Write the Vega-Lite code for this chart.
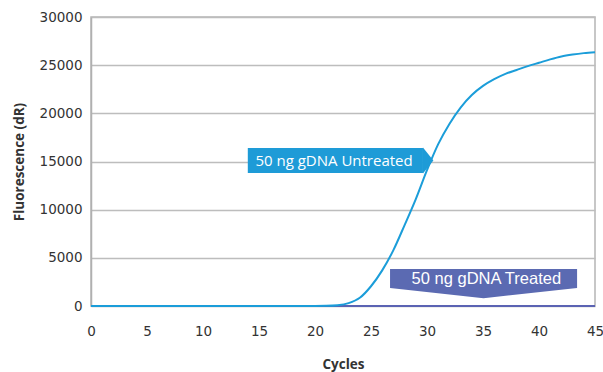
{
  "$schema": "https://vega.github.io/schema/vega-lite/v6.json",
  "autosize": {"type": "none"},
  "width": 504,
  "height": 289,
  "padding": {"left": 91, "top": 17, "right": 8, "bottom": 66},
  "background": "white",
  "config": {
    "view": {"stroke": "#b5b5b5", "strokeWidth": 1.5},
    "axis": {"labelFont": "DejaVu Sans", "labelFontSize": 13.5, "labelColor": "#333333", "titleFont": "Open Sans", "titleFontWeight": "bold", "titleFontSize": 13.5, "titleColor": "#333333", "ticks": false}
  },
  "datasets": {
    "curves": [
      {"cycle": 0, "fluorescence": 0, "sample": "Untreated"},
      {"cycle": 1, "fluorescence": 0, "sample": "Untreated"},
      {"cycle": 2, "fluorescence": 0, "sample": "Untreated"},
      {"cycle": 3, "fluorescence": 0, "sample": "Untreated"},
      {"cycle": 4, "fluorescence": 0, "sample": "Untreated"},
      {"cycle": 5, "fluorescence": 0, "sample": "Untreated"},
      {"cycle": 6, "fluorescence": 0, "sample": "Untreated"},
      {"cycle": 7, "fluorescence": 0, "sample": "Untreated"},
      {"cycle": 8, "fluorescence": 0, "sample": "Untreated"},
      {"cycle": 9, "fluorescence": 0, "sample": "Untreated"},
      {"cycle": 10, "fluorescence": 0, "sample": "Untreated"},
      {"cycle": 11, "fluorescence": 0, "sample": "Untreated"},
      {"cycle": 12, "fluorescence": 0, "sample": "Untreated"},
      {"cycle": 13, "fluorescence": 0, "sample": "Untreated"},
      {"cycle": 14, "fluorescence": 0, "sample": "Untreated"},
      {"cycle": 15, "fluorescence": 0, "sample": "Untreated"},
      {"cycle": 16, "fluorescence": 0, "sample": "Untreated"},
      {"cycle": 17, "fluorescence": 0, "sample": "Untreated"},
      {"cycle": 18, "fluorescence": 0, "sample": "Untreated"},
      {"cycle": 19, "fluorescence": 0, "sample": "Untreated"},
      {"cycle": 20, "fluorescence": 0, "sample": "Untreated"},
      {"cycle": 21, "fluorescence": 15, "sample": "Untreated"},
      {"cycle": 22, "fluorescence": 80, "sample": "Untreated"},
      {"cycle": 23, "fluorescence": 300, "sample": "Untreated"},
      {"cycle": 24, "fluorescence": 850, "sample": "Untreated"},
      {"cycle": 25, "fluorescence": 2050, "sample": "Untreated"},
      {"cycle": 26, "fluorescence": 3700, "sample": "Untreated"},
      {"cycle": 27, "fluorescence": 5800, "sample": "Untreated"},
      {"cycle": 28, "fluorescence": 8400, "sample": "Untreated"},
      {"cycle": 29, "fluorescence": 11100, "sample": "Untreated"},
      {"cycle": 30, "fluorescence": 14100, "sample": "Untreated"},
      {"cycle": 31, "fluorescence": 16800, "sample": "Untreated"},
      {"cycle": 32, "fluorescence": 18900, "sample": "Untreated"},
      {"cycle": 33, "fluorescence": 20600, "sample": "Untreated"},
      {"cycle": 34, "fluorescence": 21900, "sample": "Untreated"},
      {"cycle": 35, "fluorescence": 22850, "sample": "Untreated"},
      {"cycle": 36, "fluorescence": 23550, "sample": "Untreated"},
      {"cycle": 37, "fluorescence": 24100, "sample": "Untreated"},
      {"cycle": 38, "fluorescence": 24500, "sample": "Untreated"},
      {"cycle": 39, "fluorescence": 24900, "sample": "Untreated"},
      {"cycle": 40, "fluorescence": 25250, "sample": "Untreated"},
      {"cycle": 41, "fluorescence": 25600, "sample": "Untreated"},
      {"cycle": 42, "fluorescence": 25900, "sample": "Untreated"},
      {"cycle": 43, "fluorescence": 26100, "sample": "Untreated"},
      {"cycle": 44, "fluorescence": 26250, "sample": "Untreated"},
      {"cycle": 45, "fluorescence": 26350, "sample": "Untreated"},
      {"cycle": 0, "fluorescence": 0, "sample": "Treated"},
      {"cycle": 5, "fluorescence": 0, "sample": "Treated"},
      {"cycle": 10, "fluorescence": 0, "sample": "Treated"},
      {"cycle": 15, "fluorescence": 0, "sample": "Treated"},
      {"cycle": 20, "fluorescence": 0, "sample": "Treated"},
      {"cycle": 25, "fluorescence": 0, "sample": "Treated"},
      {"cycle": 30, "fluorescence": 0, "sample": "Treated"},
      {"cycle": 35, "fluorescence": 0, "sample": "Treated"},
      {"cycle": 40, "fluorescence": 0, "sample": "Treated"},
      {"cycle": 45, "fluorescence": 0, "sample": "Treated"}
    ],
    "callouts": [
      {"label": "50 ng gDNA Untreated", "sample": "Untreated", "x1": 14.0, "x2": 29.64, "y1": 13800, "y2": 16400, "tx": 21.7, "ty": 15050, "ax": 29.64, "ay": 15100},
      {"label": "50 ng gDNA Treated", "sample": "Treated", "x1": 26.7, "x2": 43.4, "y1": 1870, "y2": 3840, "tx": 35.3, "ty": 2800, "ax": 35.05, "ay": 1870}
    ]
  },
  "layer": [
    {
      "data": {"name": "curves"},
      "transform": [{"filter": "datum.sample === 'Treated'"}],
      "mark": {"type": "line", "color": "#5b63b3", "strokeWidth": 2},
      "encoding": {
        "x": {"field": "cycle", "type": "quantitative", "scale": {"domain": [0, 45]},
          "axis": {"values": [0, 5, 10, 15, 20, 25, 30, 35, 40, 45], "grid": false, "domain": false, "labelFlush": false, "labelPadding": 18, "title": "Cycles", "titlePadding": 20}},
        "y": {"field": "fluorescence", "type": "quantitative", "scale": {"domain": [0, 30000]},
          "axis": {"values": [0, 5000, 10000, 15000, 20000, 25000, 30000], "format": "d", "grid": true, "gridColor": "#bdbdbd", "gridWidth": 1.5, "domain": true, "domainColor": "#b0b0b0", "domainWidth": 1.5, "labelPadding": 9, "title": "Fluorescence (dR)", "titlePadding": 13}}
      }
    },
    {
      "data": {"name": "curves"},
      "transform": [{"filter": "datum.sample === 'Untreated'"}],
      "mark": {"type": "line", "color": "#1b9dd9", "strokeWidth": 2, "interpolate": "monotone"},
      "encoding": {
        "x": {"field": "cycle", "type": "quantitative"},
        "y": {"field": "fluorescence", "type": "quantitative"}
      }
    },
    {
      "data": {"name": "callouts"},
      "mark": {"type": "rect"},
      "encoding": {
        "x": {"field": "x1", "type": "quantitative"},
        "x2": {"field": "x2"},
        "y": {"field": "y1", "type": "quantitative"},
        "y2": {"field": "y2"},
        "color": {"field": "sample", "type": "nominal", "scale": {"domain": ["Untreated", "Treated"], "range": ["#1e9bd7", "#5b6ab2"]}, "legend": null}
      }
    },
    {
      "data": {"name": "callouts"},
      "transform": [{"filter": "datum.sample === 'Untreated'"}],
      "mark": {"type": "point", "filled": true, "opacity": 1, "shape": "M0,-1L0.8,0L0,1Z", "size": 676, "color": "#1e9bd7"},
      "encoding": {
        "x": {"field": "ax", "type": "quantitative"},
        "y": {"field": "ay", "type": "quantitative"}
      }
    },
    {
      "data": {"name": "callouts"},
      "transform": [{"filter": "datum.sample === 'Treated'"}],
      "mark": {"type": "point", "filled": true, "opacity": 1, "shape": "M-1,0L1,0L0,0.11Z", "size": 34969, "color": "#5b6ab2"},
      "encoding": {
        "x": {"field": "ax", "type": "quantitative"},
        "y": {"field": "ay", "type": "quantitative"}
      }
    },
    {
      "data": {"name": "callouts"},
      "transform": [{"filter": "datum.sample === 'Untreated'"}],
      "mark": {"type": "text", "color": "white", "font": "Open Sans", "fontSize": 15, "fontWeight": 500, "baseline": "middle", "align": "center"},
      "encoding": {
        "x": {"field": "tx", "type": "quantitative"},
        "y": {"field": "ty", "type": "quantitative"},
        "text": {"field": "label"}
      }
    },
    {
      "data": {"name": "callouts"},
      "transform": [{"filter": "datum.sample === 'Treated'"}],
      "mark": {"type": "text", "color": "white", "font": "Liberation Sans", "fontSize": 16.5, "baseline": "middle", "align": "center"},
      "encoding": {
        "x": {"field": "tx", "type": "quantitative"},
        "y": {"field": "ty", "type": "quantitative"},
        "text": {"field": "label"}
      }
    }
  ]
}
